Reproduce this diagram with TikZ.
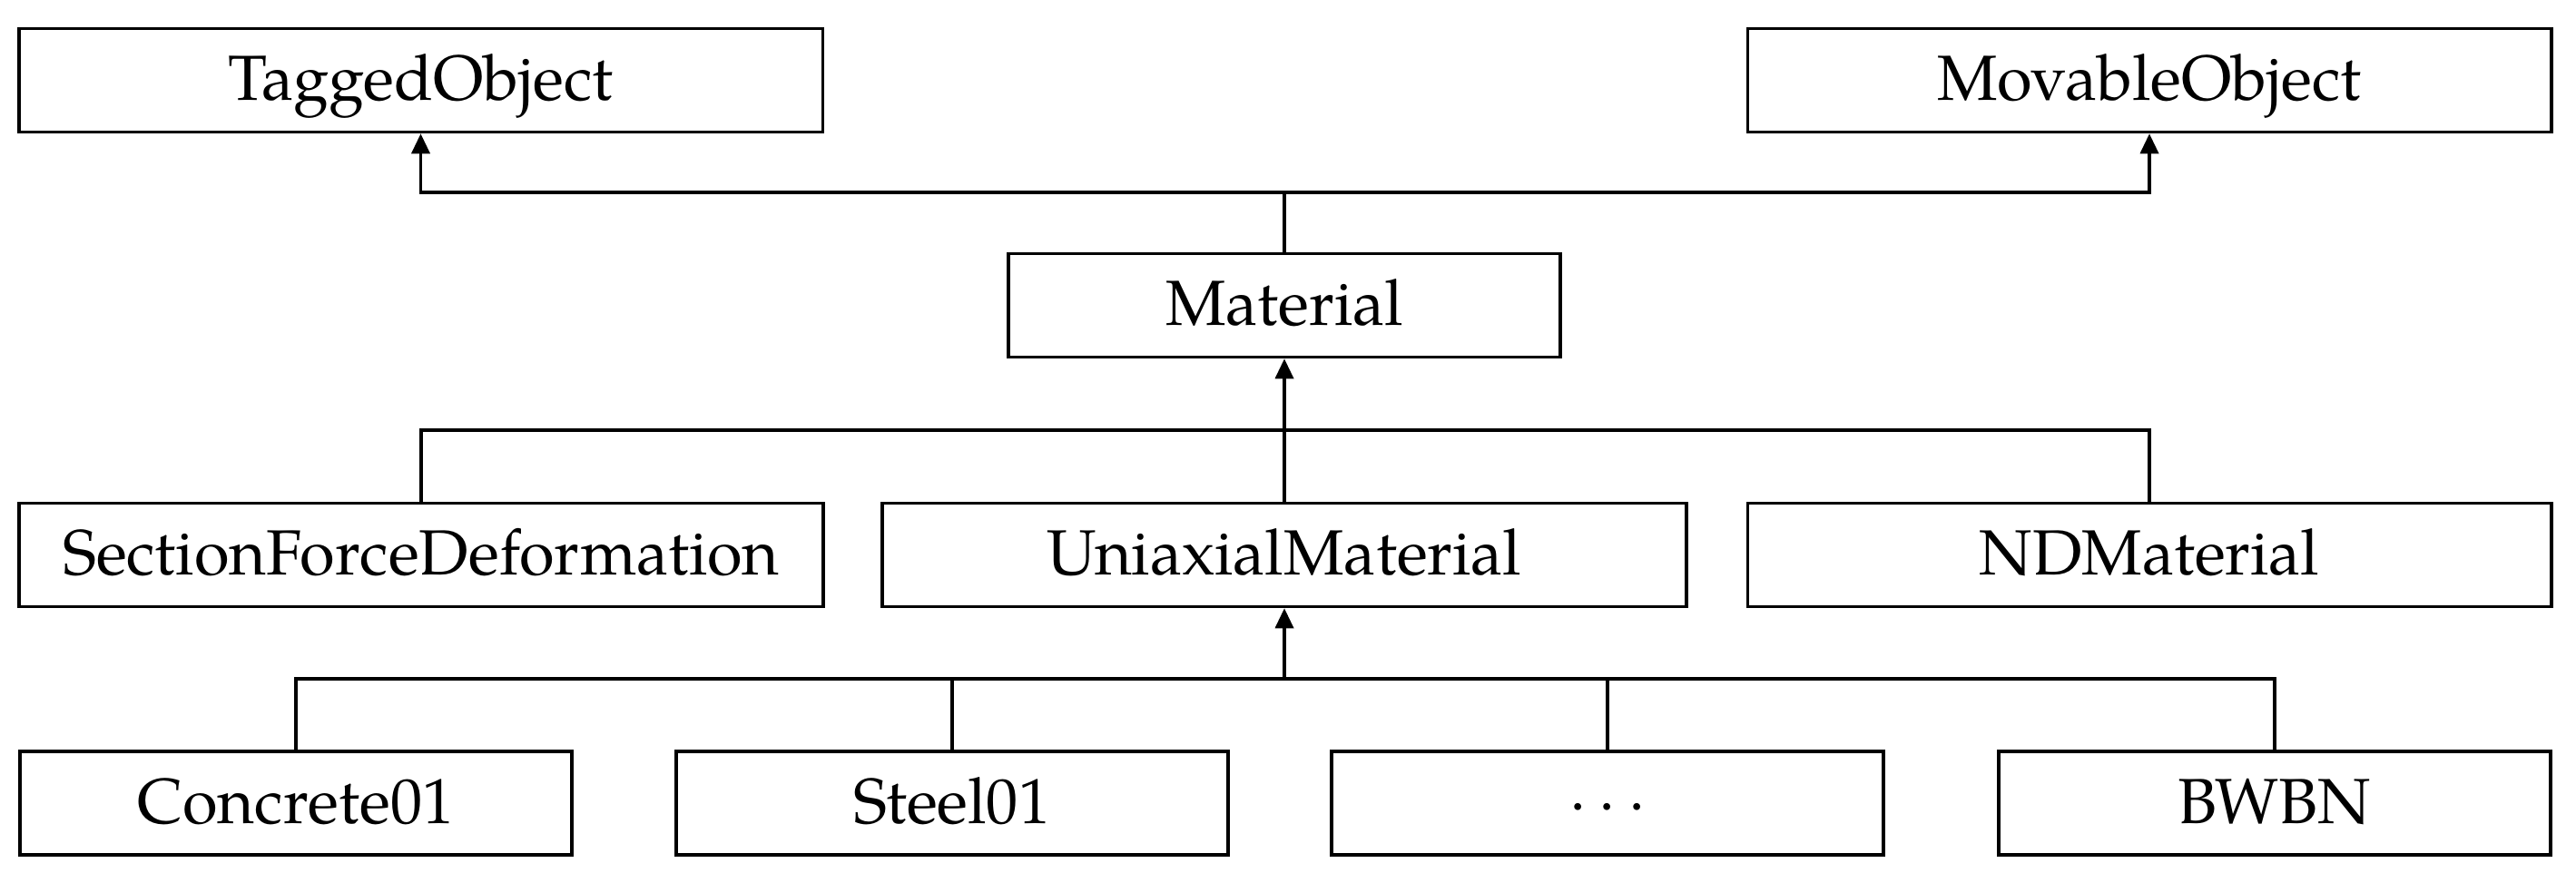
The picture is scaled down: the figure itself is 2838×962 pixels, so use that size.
\documentclass[tikz,border=0pt]{standalone}
\usepackage{fontspec}
\setmainfont{TeX Gyre Pagella}
\usetikzlibrary{arrows.meta}
\tikzset{
  box/.style={draw, line width=1pt, rectangle, inner sep=0pt, minimum height=1.14cm,
    text height=0.54cm, text depth=0.10cm, font=\fontsize{20}{24}\selectfont},
  wide/.style={box, minimum width=8.85cm},
  narrow/.style={box, minimum width=6.08cm},
  conn/.style={line width=1pt},
  arr/.style={conn, -{Triangle[length=2.2mm,width=2.0mm]}},
}
\begin{document}
\begin{tikzpicture}[x=0.01cm,y=-0.01cm]
\useasboundingbox (0,0) rectangle (2838,962);
\node[wide] (tagged) at (463.5,88.5) {TaggedObject};
\node[wide] (movable) at (2368,88.5) {MovableObject};
\node[narrow] (material) at (1415,336.5) {Material};
\node[wide] (sfd) at (464,611.5) {SectionForceDeformation};
\node[wide] (uni) at (1415,611.5) {UniaxialMaterial};
\node[wide] (nd) at (2368,611.5) {NDMaterial};
\node[narrow] (c01) at (326,885) {Concrete01};
\node[narrow] (s01) at (1049,885) {Steel01};
\node[narrow] (dots) at (1771,885) {$\cdots$};
\node[narrow] (bwbn) at (2506,885) {BWBN};
\coordinate (bus1) at (1415,212);
\coordinate (bus2) at (1415,474);
\coordinate (bus3) at (1415,748);
\draw[conn] (material.north) -- (bus1);
\draw[arr] (bus1) -| (tagged.south);
\draw[arr] (bus1) -| (movable.south);
\draw[arr] (uni.north) -- (material.south);
\draw[conn] (sfd.north) |- (bus2) -| (nd.north);
\draw[arr] (bus3) -- (uni.south);
\draw[conn] (c01.north) |- (bus3) -| (bwbn.north);
\draw[conn] (s01.north) -- (s01.north |- bus3);
\draw[conn] (dots.north) -- (dots.north |- bus3);
\end{tikzpicture}
\end{document}
